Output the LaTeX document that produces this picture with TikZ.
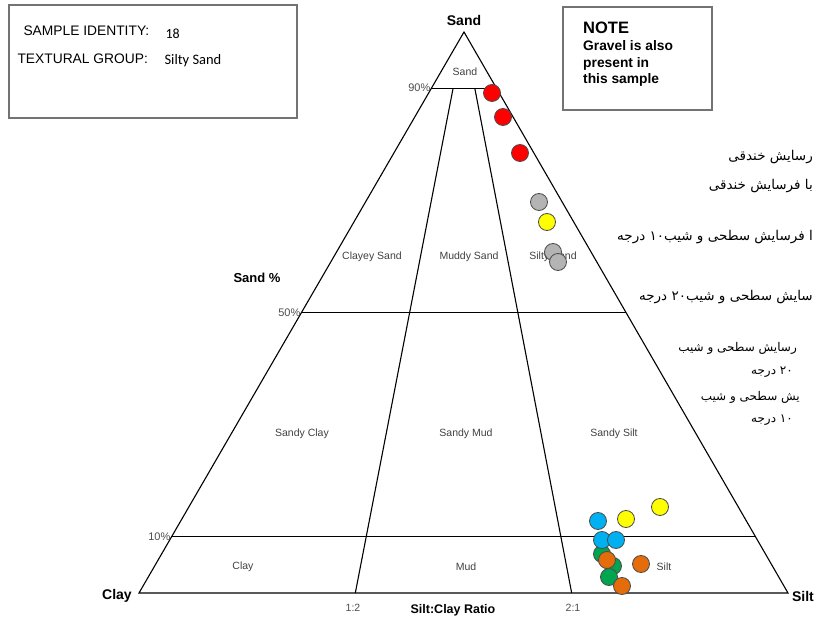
\documentclass[tikz,border=0pt]{standalone}
\usepackage{fontspec}
\setmainfont{Liberation Sans}
\newfontfamily\calfont{Carlito}
\newfontfamily\farsi[Script=Arabic]{DejaVu Sans}
\TeXXeTstate=1
\usetikzlibrary{calc}
\definecolor{dotred}{HTML}{FF0000}
\definecolor{dotgrey}{HTML}{B4B4B4}
\definecolor{dotyellow}{HTML}{FFFF00}
\definecolor{dotblue}{HTML}{00B0F0}
\definecolor{dotgreen}{HTML}{00A550}
\definecolor{dotorange}{HTML}{E46C0A}
\tikzset{
  region/.style={font=\fontsize{10.5}{12}\selectfont, text=black!75},
  pct/.style={font=\fontsize{11}{12}\selectfont, text=black!70, anchor=east, inner sep=1pt},
  corner/.style={font=\bfseries\fontsize{14}{16}\selectfont},
  fa/.style={font=\farsi\fontsize{13.5}{15}\selectfont, anchor=east, inner sep=0pt},
  fasmall/.style={font=\farsi\fontsize{12}{13}\selectfont, anchor=east, inner sep=0pt},
  dot/.style={circle, minimum size=17pt, inner sep=0pt, draw=black!70, line width=0.8pt},
  infobox/.style={draw=black!55, line width=1.4pt},
}
\begin{document}
\begin{tikzpicture}[x=1pt, y=-1pt]
\useasboundingbox (0,0) rectangle (815,620);
% corners of the triangle
\coordinate (sand) at (464,32);
\coordinate (clay) at (139,593);
\coordinate (silt) at (788,593);
\coordinate (r12) at ($(clay)!0.3333!(silt)$);
\coordinate (r21) at ($(clay)!0.6667!(silt)$);
\draw[line width=1.1pt, line join=miter] (sand) -- (clay) -- (silt) -- cycle;
% sand percent lines
\foreach \p in {90,50,10}{
  \draw[line width=1.1pt] ($(clay)!\p/100!(sand)$) coordinate (l\p) -- ($(silt)!\p/100!(sand)$) coordinate (r\p);
  \node[pct] (pct\p) at (l\p) {\p\%};
}
% ratio lines
\draw[line width=1.1pt] (r12) -- ($(r12)!0.9!(sand)$);
\draw[line width=1.1pt] (r21) -- ($(r21)!0.9!(sand)$);
\node[font=\fontsize{10.5}{12}\selectfont, text=black!70] (lab12) at (353,608) {1:2};
\node[font=\fontsize{10.5}{12}\selectfont, text=black!70] (lab21) at (573,608) {2:1};
\node[font=\bfseries\fontsize{12.5}{14}\selectfont] (ratio) at (453,610) {Silt:Clay Ratio};
\node[font=\bfseries\fontsize{13}{14}\selectfont] (sandpc) at (257,278) {Sand \%};
\node[corner] (sandlab) at (464,20) {Sand};
\node[corner] (claylab) at (117,596) {Clay};
\node[corner] (siltlab) at (803,596) {Silt};
% class names
\node[region] (n1) at (465,72) {Sand};
\node[region] (n2) at (372,257) {Clayey Sand};
\node[region] (n3) at (469,257) {Muddy Sand};
\node[region] (n4) at (553,257) {Silty Sand};
\node[region] (n5) at (302,434) {Sandy Clay};
\node[region] (n6) at (466,434) {Sandy Mud};
\node[region] (n7) at (614,434) {Sandy Silt};
\node[region] (n8) at (243,567) {Clay};
\node[region] (n9) at (466,567) {Mud};
\node[region] (n10) at (664,567) {Silt};
% boxes
\draw[infobox] (9,5) rectangle (297,118);
\node[anchor=west, font=\fontsize{13.8}{15}\selectfont] (sid) at (20,31) {SAMPLE IDENTITY:};
\node[anchor=west, font=\calfont\fontsize{14}{15}\selectfont] (sidv) at (162,34) {18};
\node[anchor=west, font=\fontsize{13.8}{15}\selectfont] (tgr) at (14,59) {TEXTURAL GROUP:};
\node[anchor=west, font=\calfont\fontsize{14.5}{15}\selectfont] (tgrv) at (161,61) {Silty Sand};
\draw[infobox] (563,7) rectangle (712,110);
\node[anchor=north west, align=left, inner sep=0pt, font=\bfseries\fontsize{13.8}{16.7}\selectfont] (note) at (583,22)
  {{\fontsize{16.5}{17}\selectfont NOTE}\\Gravel is also\\present in\\this sample};
% legend text
\node[fa] (fa1) at (813,157) {\beginR رسایش خندقی\endR};
\node[fa] (fa2) at (813,186) {\beginR با فرسایش خندقی\endR};
\node[fa] (fa3) at (813,237) {\beginR ا فرسایش سطحی و شیب۱۰ درجه\endR};
\node[fa] (fa4) at (813,297) {\beginR سایش سطحی و شیب۲۰ درجه\endR};
\node[fasmall] (fa5) at (797,348) {\beginR رسایش سطحی و شیب\endR};
\node[fasmall] (fa6) at (793,372) {\beginR ۲۰ درجه\endR};
\node[fasmall] (fa7) at (800,397) {\beginR یش سطحی و شیب\endR};
\node[fasmall] (fa8) at (793,420) {\beginR ۱۰ درجه\endR};
% samples
\foreach \x/\y [count=\i] in {492/93, 503/117, 520/153}
  \node[dot, fill=dotred] (red\i) at (\x,\y) {};
\foreach \x/\y [count=\i] in {539/202, 553/252, 558/262}
  \node[dot, fill=dotgrey] (grey\i) at (\x,\y) {};
\foreach \x/\y [count=\i] in {602/554, 613/566, 609/577}
  \node[dot, fill=dotgreen] (green\i) at (\x,\y) {};
\foreach \x/\y [count=\i] in {598/521, 602/540, 616/540}
  \node[dot, fill=dotblue] (blue\i) at (\x,\y) {};
\foreach \x/\y [count=\i] in {607/560, 641/564, 622/586}
  \node[dot, fill=dotorange] (orange\i) at (\x,\y) {};
\foreach \x/\y [count=\i] in {547/222, 626/519, 660/507}
  \node[dot, fill=dotyellow] (yellow\i) at (\x,\y) {};
\end{tikzpicture}
\end{document}
